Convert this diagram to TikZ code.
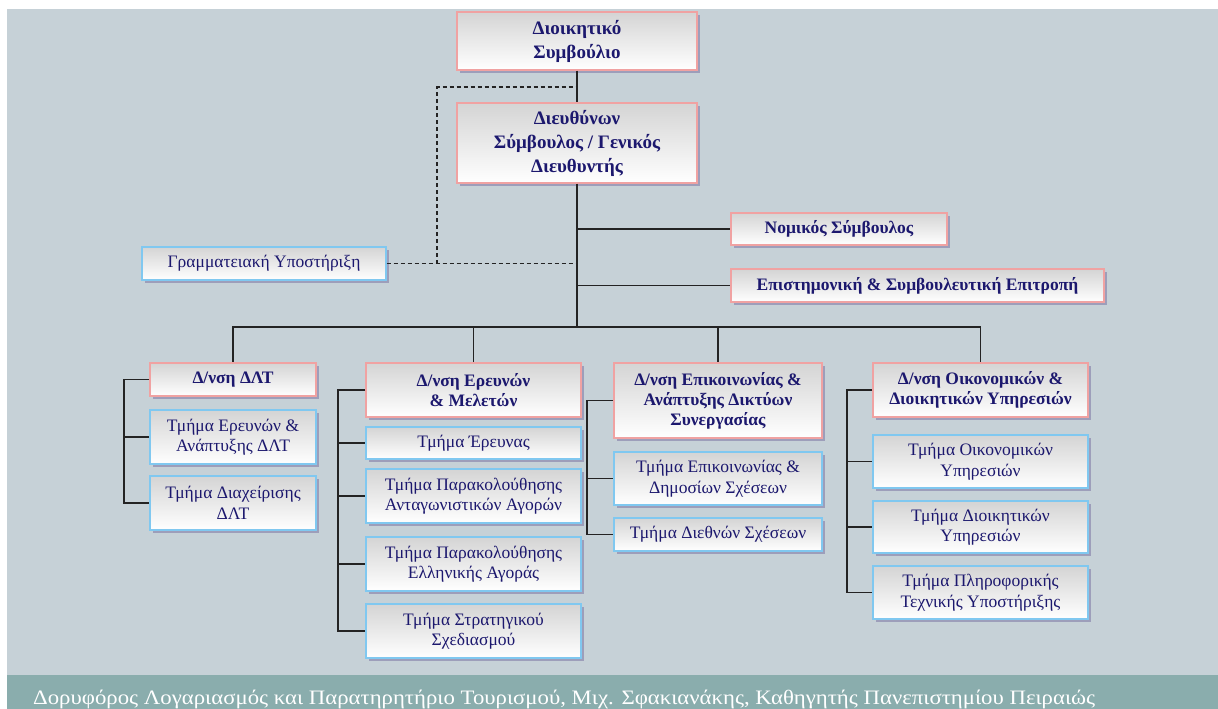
\documentclass[tikz,border=0pt]{standalone}
\usepackage{fontspec}
\usepackage{graphicx}
\setmainfont{Liberation Serif}
\usetikzlibrary{shadows}

\definecolor{panel}{RGB}{198,209,215}
\definecolor{band}{RGB}{138,173,173}
\definecolor{ink}{RGB}{28,24,110}
\definecolor{redline}{RGB}{240,162,162}
\definecolor{blueline}{RGB}{128,200,240}
\definecolor{shadowc}{RGB}{150,150,182}
\definecolor{boxtop}{RGB}{212,212,212}
\definecolor{wirec}{RGB}{35,35,35}

\begin{document}
\begin{tikzpicture}[x=1pt,y=-1pt,
  box/.style={draw, line width=1.1pt, top color=boxtop, bottom color=white,
    text=ink, align=center, inner sep=0pt,
    drop shadow={shadow xshift=3pt, shadow yshift=-3pt, fill=shadowc, opacity=0.85}},
  head/.style={box, draw=redline, font=\fontsize{17.5}{20}\selectfont\bfseries},
  top head/.style={head, font=\fontsize{19}{24}\selectfont\bfseries},
  unit/.style={box, draw=blueline, font=\fontsize{17.5}{20.5}\selectfont},
  wire/.style={draw=wirec, line width=1.5pt},
  staffline/.style={wire, line width=1.4pt, dash pattern=on 4pt off 3pt},
]
\useasboundingbox (0,0) rectangle (1218,709);

% background panel and footer band
\fill[white] (0,0) rectangle (1218,709);
\fill[panel] (7,9) rectangle (1218,675);
\fill[band] (7,675) rectangle (1218,709);

% top management
\node[top head, minimum width=240, minimum height=58] (dsb) at (577,41) {Διοικητικό\\Συμβούλιο};
\node[top head, minimum width=240, minimum height=80] (ceo) at (577,143) {Διευθύνων\\Σύμβουλος / Γενικός\\Διευθυντής};

% staff units
\node[unit, minimum width=244, minimum height=33] (gram) at (264,263.5) {Γραμματειακή Υποστήριξη};
\node[head, minimum width=216, minimum height=32] (nom) at (839,229) {Νομικός Σύμβουλος};
\node[head, minimum width=373, minimum height=33] (epi) at (917.5,285.5) {Επιστημονική \& Συμβουλευτική Επιτροπή};

% directorates
\node[head, minimum width=166, minimum height=33] (dlt) at (233,379.5) {Δ/νση ΔΛΤ};
\node[head, minimum width=215, minimum height=54] (erm) at (473.5,390) {Δ/νση Ερευνών\\\& Μελετών};
\node[head, minimum width=208, minimum height=75] (epk) at (718,400.5) {Δ/νση Επικοινωνίας \&\\Ανάπτυξης Δικτύων\\Συνεργασίας};
\node[head, minimum width=215, minimum height=54] (oik) at (980.5,390) {Δ/νση Οικονομικών \&\\Διοικητικών Υπηρεσιών};

% departments
\node[unit, minimum width=166, minimum height=54] (dlt1) at (233,437) {Τμήμα Ερευνών \&\\Ανάπτυξης ΔΛΤ};
\node[unit, minimum width=166, minimum height=54] (dlt2) at (233,503) {Τμήμα Διαχείρισης\\ΔΛΤ};

\node[unit, minimum width=215, minimum height=32] (erm1) at (473.5,443) {Τμήμα Έρευνας};
\node[unit, minimum width=215, minimum height=54] (erm2) at (473.5,496) {Τμήμα Παρακολούθησης\\Ανταγωνιστικών Αγορών};
\node[unit, minimum width=215, minimum height=54] (erm3) at (473.5,564) {Τμήμα Παρακολούθησης\\Ελληνικής Αγοράς};
\node[unit, minimum width=215, minimum height=54] (erm4) at (473.5,631) {Τμήμα Στρατηγικού\\Σχεδιασμού};

\node[unit, minimum width=208, minimum height=53] (epk1) at (718,478.5) {Τμήμα Επικοινωνίας \&\\Δημοσίων Σχέσεων};
\node[unit, minimum width=208, minimum height=33] (epk2) at (718,534.5) {Τμήμα Διεθνών Σχέσεων};

\node[unit, minimum width=215, minimum height=53] (oik1) at (980.5,461.5) {Τμήμα Οικονομικών\\Υπηρεσιών};
\node[unit, minimum width=215, minimum height=52] (oik2) at (980.5,527) {Τμήμα Διοικητικών\\Υπηρεσιών};
\node[unit, minimum width=215, minimum height=53] (oik3) at (980.5,592.5) {Τμήμα Πληροφορικής\\Τεχνικής Υποστήριξης};

% connectors: main trunk and bus
\coordinate (hub) at (577,327);
\draw[wire] (dsb.south) -- (ceo.north);
\draw[wire] (ceo.south) -- (hub);
\draw[wire] (hub) -| (dlt.north);
\draw[wire] (hub) -| (erm.north);
\draw[wire] (hub) -| (epk.north);
\draw[wire] (hub) -| (oik.north);
\draw[wire] (ceo.south |- nom.west) -- (nom.west);
\draw[wire] (ceo.south |- epi.west) -- (epi.west);

% dashed staff link to the secretariat
\coordinate (dk) at (437,87);
\draw[staffline] (gram.east) -- (ceo.south |- gram.east);
\draw[staffline] (dk |- gram.east) -- (dk) -- (dsb.south |- dk);

% side brackets to the departments
\coordinate (b1) at (124,0);
\coordinate (b2) at (338,0);
\coordinate (b3) at (587,0);
\coordinate (b4) at (847,0);
\draw[wire] (dlt.west) -- (b1 |- dlt.west) -- (b1 |- dlt2.west) -- (dlt2.west);
\draw[wire] (b1 |- dlt1.west) -- (dlt1.west);
\draw[wire] (erm.west) -- (b2 |- erm.west) -- (b2 |- erm4.west) -- (erm4.west);
\draw[wire] (b2 |- erm1.west) -- (erm1.west);
\draw[wire] (b2 |- erm2.west) -- (erm2.west);
\draw[wire] (b2 |- erm3.west) -- (erm3.west);
\draw[wire] (epk.west) -- (b3 |- epk.west) -- (b3 |- epk2.west) -- (epk2.west);
\draw[wire] (b3 |- epk1.west) -- (epk1.west);
\draw[wire] (oik.west) -- (b4 |- oik.west) -- (b4 |- oik3.west) -- (oik3.west);
\draw[wire] (b4 |- oik1.west) -- (oik1.west);
\draw[wire] (b4 |- oik2.west) -- (oik2.west);

% footer credit
\node[anchor=base west, text=white, inner sep=0pt] (foot) at (33,704)
  {\resizebox{1062pt}{\height}{\fontsize{20.5}{20.5}\selectfont Δορυφόρος Λογαριασμός και Παρατηρητήριο Τουρισμού, Μιχ. Σφακιανάκης, Καθηγητής Πανεπιστημίου Πειραιώς}};
\end{tikzpicture}
\end{document}
